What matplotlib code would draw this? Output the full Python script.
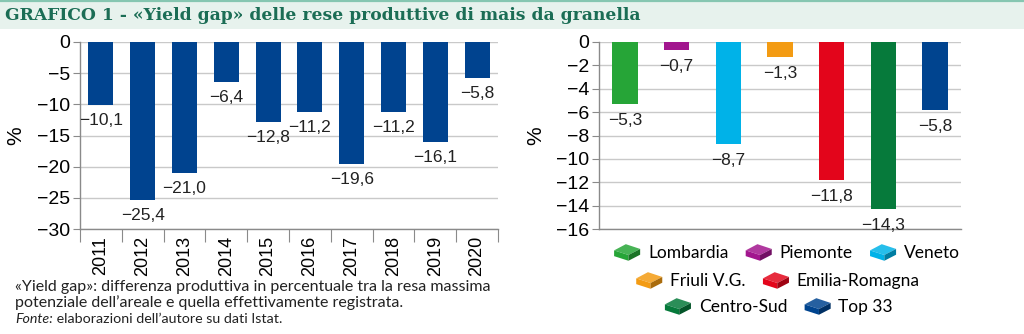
import matplotlib
matplotlib.use("Agg")
import matplotlib.pyplot as plt
from matplotlib.patches import Rectangle, Polygon
from matplotlib.legend_handler import HandlerBase
import matplotlib.colors as mcolors

years = ["2011", "2012", "2013", "2014", "2015", "2016", "2017", "2018", "2019", "2020"]
gap_years = [-10.1, -25.4, -21.0, -6.4, -12.8, -11.2, -19.6, -11.2, -16.1, -5.8]

regions = ["Lombardia", "Piemonte", "Veneto", "Friuli V.G.", "Emilia-Romagna", "Centro-Sud", "Top 33"]
gap_regions = [-5.3, -0.7, -8.7, -1.3, -11.8, -14.3, -5.8]
region_colors = ["#26a537", "#a2168e", "#00b2e8", "#f39b13", "#e3051b", "#067a3b", "#00448f"]
blue = "#00438f"

title = "GRAFICO 1 - «Yield gap» delle rese produttive di mais da granella"
note1 = "«Yield gap»: differenza produttiva in percentuale tra la resa massima"
note2 = "potenziale dell’areale e quella effettivamente registrata."
fonte_label = "Fonte:"
fonte_text = " elaborazioni dell’autore su dati Istat."

plt.rcParams['font.family'] = ['Liberation Sans', 'DejaVu Sans']
plt.rcParams['axes.unicode_minus'] = True

W, H = 1024, 334
fig = plt.figure(figsize=(W / 100, H / 100), dpi=100)

def fx(px):
    return px / W

def fy(py):
    return 1 - py / H

# title band
fig.patches.append(Rectangle((0, fy(29)), 1, fy(2) - fy(29), transform=fig.transFigure,
                             facecolor="#e7f2ed", edgecolor="none", zorder=0))
fig.lines.append(plt.Line2D([0, 1], [fy(1.2), fy(1.2)], transform=fig.transFigure,
                            color="#86c6b1", lw=1.6))
fig.text(fx(5), fy(15), title, family="DejaVu Serif", weight="bold", fontsize=12.3,
         color="#1b6d55", va="center", ha="left")

tick_fs = 14
grid_c = "#c9c9c9"
spine_c = "#8a8a8a"


def fmt(v):
    return ("\u2212" + f"{abs(v):.1f}".replace(".", ",")) if v < 0 else f"{v:.1f}".replace(".", ",")


def style_axes(ax):
    for s in ["top", "right"]:
        ax.spines[s].set_visible(False)
    for s in ["left", "bottom"]:
        ax.spines[s].set_color(spine_c)
        ax.spines[s].set_linewidth(1.0)
    ax.yaxis.grid(True, color=grid_c, lw=1.0)
    ax.set_axisbelow(True)
    ax.tick_params(axis="y", direction="out", length=5, color=spine_c, labelsize=tick_fs, pad=2)


# left chart
ax1 = fig.add_axes([fx(80), fy(229), fx(498) - fx(80), fy(42) - fy(229)])
x1 = list(range(len(years)))
ax1.bar(x1, gap_years, width=0.6, color=blue, zorder=3)
ax1.set_xlim(-0.5, len(years) - 0.5)
ax1.set_ylim(-30, 0)
ax1.set_yticks([0, -5, -10, -15, -20, -25, -30])
ax1.set_yticklabels([fmt(v).replace(",0", "") for v in [0, -5, -10, -15, -20, -25, -30]])
style_axes(ax1)
ax1.set_xticks([i + 0.5 for i in range(-1, len(years))], minor=False)
ax1.set_xticklabels([])
ax1.tick_params(axis="x", direction="out", length=9, color=spine_c)
ax1.set_xticks(x1, minor=True)
ax1.set_xticklabels(years, minor=True, rotation=90, fontsize=13)
ax1.tick_params(axis="x", which="minor", length=0, pad=5)
ax1.set_ylabel("%", fontsize=15)
ax1.yaxis.set_label_coords(-0.132, 0.5)
for xi, v in zip(x1, gap_years):
    ax1.annotate(fmt(v), (xi, v), xytext=(0, -11), textcoords="offset points",
                 ha="center", va="center", fontsize=12.5, color="#222222")

# right chart
ax2 = fig.add_axes([fx(599), fy(229), fx(961) - fx(599), fy(42) - fy(229)])
x2 = list(range(len(regions)))
ax2.bar(x2, gap_regions, width=0.49, color=region_colors, zorder=3)
ax2.set_xlim(-0.5, len(regions) - 0.5)
ax2.set_ylim(-16, 0)
yt2 = list(range(0, -17, -2))
ax2.set_yticks(yt2)
ax2.set_yticklabels([fmt(v).replace(",0", "") for v in yt2])
style_axes(ax2)
ax2.set_xticks([])
ax2.set_ylabel("%", fontsize=15)
ax2.yaxis.set_label_coords(-0.149, 0.5)
for xi, v in zip(x2, gap_regions):
    ax2.annotate(fmt(v), (xi, v), xytext=(0, -12), textcoords="offset points",
                 ha="center", va="center", fontsize=12.5, color="#222222")


class BrickHandler(HandlerBase):
    def create_artists(self, legend, orig_handle, xdescent, ydescent, width, height, fontsize, trans):
        c = mcolors.to_rgb(orig_handle.get_facecolor())
        light = tuple(min(1, ch * 0.85 + 0.15) for ch in c)
        dark = tuple(ch * 0.7 for ch in c)
        x0, y0 = -xdescent, -ydescent
        w, h = width, height
        top = Polygon([(x0, y0 + h * 0.62), (x0 + w * 0.45, y0 + h * 1.05),
                       (x0 + w, y0 + h * 0.72), (x0 + w * 0.55, y0 + h * 0.3)],
                      closed=True, facecolor=light, edgecolor="none", transform=trans)
        front = Polygon([(x0, y0 + h * 0.62), (x0 + w * 0.55, y0 + h * 0.3),
                         (x0 + w * 0.55, y0 - h * 0.1), (x0, y0 + h * 0.22)],
                        closed=True, facecolor=c, edgecolor="none", transform=trans)
        side = Polygon([(x0 + w * 0.55, y0 + h * 0.3), (x0 + w, y0 + h * 0.72),
                        (x0 + w, y0 + h * 0.32), (x0 + w * 0.55, y0 - h * 0.1)],
                       closed=True, facecolor=dark, edgecolor="none", transform=trans)
        return [top, front, side]


handles = [Rectangle((0, 0), 1, 1, facecolor=c) for c in region_colors]
rows = [[0, 1, 2], [3, 4], [5, 6]]
row_y = [253, 281, 307]
row_x = [787, 778, 779]
for r, yy, xx in zip(rows, row_y, row_x):
    leg = fig.legend([handles[i] for i in r], [regions[i] for i in r], loc="center",
                     bbox_to_anchor=(fx(xx), fy(yy)), ncol=len(r), frameon=False,
                     handler_map={Rectangle: BrickHandler()}, prop={"family": "Lato", "size": 12.5},
                     handlelength=1.5, handleheight=0.9, handletextpad=0.45, columnspacing=1.0,
                     borderaxespad=0, borderpad=0)

# footnotes
fig.text(fx(15), fy(287), note1, family="Lato", fontsize=11.5, va="center", ha="left", color="#222222")
fig.text(fx(15), fy(302.5), note2, family="Lato", fontsize=11.5, va="center", ha="left", color="#222222")
t = fig.text(fx(15), fy(319), fonte_label, family="Lato", style="italic", fontsize=10.3,
             va="center", ha="left", color="#222222")
r_ = fig.canvas.get_renderer()
bb = t.get_window_extent(renderer=r_)
fig.text(bb.x1 / W, fy(319), fonte_text, family="Lato", fontsize=10.3, va="center", ha="left",
         color="#222222")

fig.savefig("out.png", dpi=100, facecolor="white")
